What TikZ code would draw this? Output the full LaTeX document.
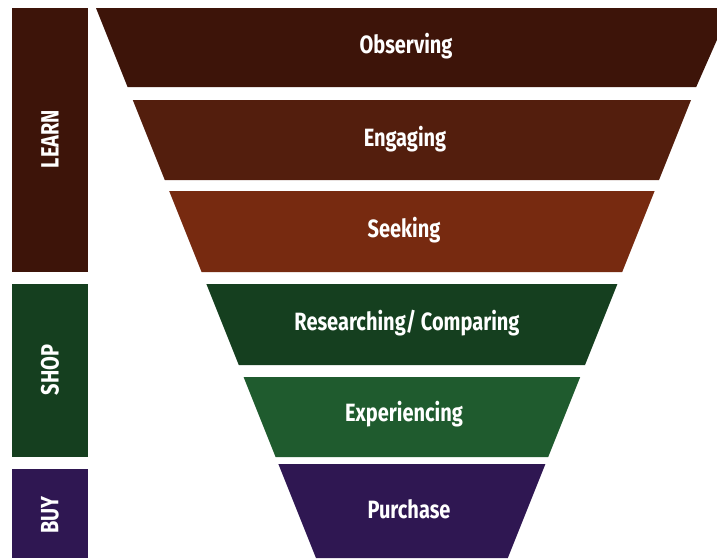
\documentclass[tikz,border=0pt]{standalone}
\usepackage{fontspec}
\newfontfamily\condfont{Fira Sans}[FakeStretch=0.8]
\begin{document}
\begin{tikzpicture}[x=1pt,y=-1pt,
  bandtext/.style={text=white,font=\condfont\bfseries\fontsize{25}{28}\selectfont,inner sep=0pt},
  sidetext/.style={text=white,font=\condfont\bfseries\fontsize{25}{28}\selectfont,inner sep=0pt,rotate=90}]
\definecolor{learnA}{HTML}{3D1409}
\definecolor{learnB}{HTML}{531E0D}
\definecolor{learnC}{HTML}{772A10}
\definecolor{shopA}{HTML}{153F1F}
\definecolor{shopB}{HTML}{1F5B2E}
\definecolor{buyA}{HTML}{2F1752}
\useasboundingbox (0,0) rectangle (717,558);
\fill[white] (0,0) rectangle (717,558);
% funnel bands: left edge x = 96 + 0.4(y-8), right edge x = 731 - 0.4y
\begin{scope}
\clip (0,0) rectangle (717,558);
\fill[learnA] (96,8) -- (731,8) -- ({731-0.4*87},87) -- ({96+0.4*79},87) -- cycle;
\fill[learnB] ({96+0.4*92},100) -- ({731-0.4*100},100) -- ({731-0.4*180},180) -- ({96+0.4*172},180) -- cycle;
\fill[learnC] ({96+0.4*183},191) -- ({731-0.4*191},191) -- ({731-0.4*272},272) -- ({96+0.4*264},272) -- cycle;
\fill[shopA] ({96+0.4*276},284) -- ({731-0.4*284},284) -- ({731-0.4*365},365) -- ({96+0.4*357},365) -- cycle;
\fill[shopB] ({96+0.4*369},377) -- ({731-0.4*377},377) -- ({731-0.4*457},457) -- ({96+0.4*449},457) -- cycle;
\fill[buyA] ({96+0.4*456},464) -- ({731-0.4*464},464) -- ({731-0.4*558},558) -- ({96+0.4*550},558) -- cycle;
\end{scope}
\node[bandtext] (observing) at (406,46) {Observing};
\node[bandtext] (engaging) at (405,139) {Engaging};
\node[bandtext] (seeking) at (404,230) {Seeking};
\node[bandtext] (researching) at (407,323) {Researching/ Comparing};
\node[bandtext] (experiencing) at (404,414) {Experiencing};
\node[bandtext] (purchase) at (409,509) {Purchase};
% stage bars on the left
\fill[learnA] (12,8) rectangle (88,272);
\fill[shopA] (12,284) rectangle (88,457);
\fill[buyA] (12,469) rectangle (88,558);
\node[sidetext] (learn) at (50,139) {LEARN};
\node[sidetext] (shop) at (50,370) {SHOP};
\node[sidetext] (buy) at (50,515) {BUY};
\end{tikzpicture}
\end{document}
